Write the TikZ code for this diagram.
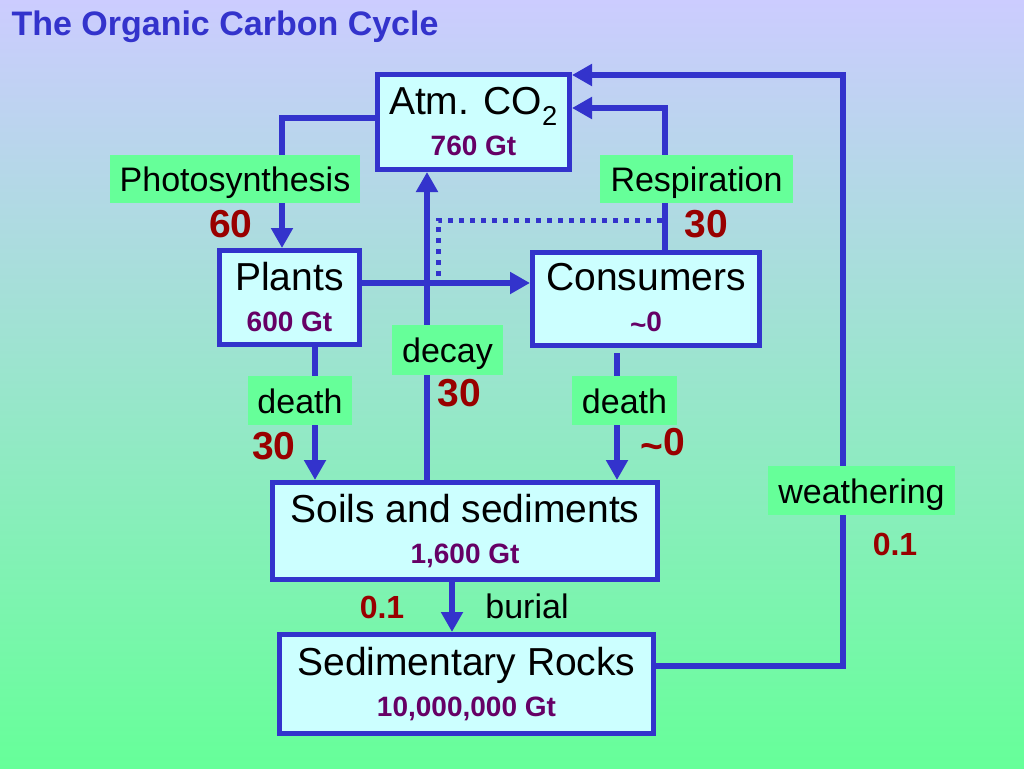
\documentclass[tikz,border=0pt]{standalone}
\usepackage{fontspec}
\setmainfont{Liberation Sans}
\usetikzlibrary{arrows.meta,calc}

\definecolor{lineblue}{RGB}{51,51,204}
\definecolor{boxfill}{RGB}{204,255,255}
\definecolor{tagfill}{RGB}{102,255,153}
\definecolor{valpurple}{RGB}{102,0,102}
\definecolor{numred}{RGB}{153,0,0}
\definecolor{bgtop}{RGB}{204,204,255}
\definecolor{bgbottom}{RGB}{102,255,153}

\newcommand{\valfont}{\fontsize{28pt}{31pt}\selectfont\bfseries\color{valpurple}}
\newcommand{\approxsign}{\raisebox{-0.12em}{\textasciitilde}}

\begin{document}
\begin{tikzpicture}[x=1pt, y=-1pt,
    reservoir/.style={draw=lineblue, line width=5pt, fill=boxfill, inner sep=0pt,
        align=center, font=\fontsize{39pt}{41pt}\selectfont},
    flow/.style={draw=lineblue, line width=6pt, -{Triangle[length=20pt, width=21pt]}},
    dotflow/.style={draw=lineblue, line width=5pt, dash pattern=on 5pt off 6pt},
    tag/.style={fill=tagfill, inner sep=0pt, text height=27pt, text depth=2pt,
        font=\fontsize{34pt}{36pt}\selectfont},
    bignum/.style={text=numred, font=\fontsize{39pt}{41pt}\selectfont\bfseries},
    smallnum/.style={text=numred, font=\fontsize{32pt}{34pt}\selectfont\bfseries}]
    % Background
    \useasboundingbox (0,0) rectangle (1024,768);
    \shade[top color=bgtop, bottom color=bgbottom] (0,0) rectangle (1024,768);

    % Title
    \node[anchor=west, text=lineblue, font=\fontsize{34pt}{36pt}\selectfont\bfseries] (title) at (8,27) {The Organic Carbon Cycle};

    % Carbon reservoirs
    \node[reservoir, minimum width=192pt, minimum height=95pt] (atm) at (473.5,122) {Atm. CO\textsubscript{2}\\{\valfont 760 Gt}};
    \node[reservoir, minimum width=140pt, minimum height=94pt] (plants) at (289.5,297.5) {Plants\\{\valfont 600 Gt}};
    \node[reservoir, minimum width=227pt, minimum height=93pt] (cons) at (646,299) {Consumers\\{\valfont \approxsign0}};
    \node[reservoir, minimum width=385pt, minimum height=97pt] (soils) at (465,531) {Soils and sediments\\{\valfont 1,600 Gt}};
    \node[reservoir, minimum width=374pt, minimum height=99pt] (rocks) at (466.5,684) {Sedimentary Rocks\\{\valfont 10,000,000 Gt}};

    % Fluxes
    \draw[flow] ([yshift=4pt]atm.west) -| ([xshift=-7.5pt]plants.north);
    \draw[flow] ([xshift=19pt]cons.north) |- ([yshift=14pt]atm.east);
    \draw[flow] ([yshift=18pt]rocks.east) -- ++(187,0) |- ([yshift=47pt]atm.east);
    \draw[flow] ([yshift=14.5pt]plants.east) -- ([yshift=14.5pt]plants.east -| cons.west);
    \draw[flow] ([xshift=-38pt]soils.north) -- ([xshift=-38pt]soils.north |- atm.south);
    \draw[flow] ([xshift=25.5pt]plants.south) -- ([xshift=25.5pt]plants.south |- soils.north);
    \draw[flow] ([xshift=-29pt, yshift=-5pt]cons.south) -- ([xshift=-29pt]cons.south |- soils.north);
    \draw[flow] ([xshift=-13pt]soils.south) -- ([xshift=-13pt]soils.south |- rocks.north);

    % Dotted path
    \coordinate (dotstart) at (438,276);
    \coordinate (dotend) at (664,220);
    \draw[dotflow] (dotstart) |- (dotend);

    % Process labels
    \node[tag, minimum width=250pt, minimum height=48pt] (photo) at (235,179) {Photosynthesis};
    \node[tag, minimum width=193pt, minimum height=48pt] (resp) at (696.5,179) {Respiration};
    \node[tag, minimum width=111pt, minimum height=50pt] (decay) at (447.5,350) {decay};
    \node[tag, minimum width=104pt, minimum height=49pt] (pdeath) at (300,400.5) {death};
    \node[tag, minimum width=105pt, minimum height=49pt] (cdeath) at (624.5,400.5) {death};
    \node[tag, minimum width=187pt, minimum height=49pt] (weath) at (861.5,490.5) {weathering};
    \node[font=\fontsize{34pt}{36pt}\selectfont] (burial) at (527,606) {burial};

    % Flux values
    \node[bignum] (nphoto) at (231,224) {60};
    \node[bignum] (nresp) at (706,224) {30};
    \node[bignum] (ndecay) at (459,393) {30};
    \node[bignum] (npdeath) at (274,446) {30};
    \node[bignum] (ncdeath) at (663,444) {\approxsign0};
    \node[smallnum] (nweath) at (895,544) {0.1};
    \node[smallnum] (nburial) at (382,607) {0.1};
\end{tikzpicture}
\end{document}
